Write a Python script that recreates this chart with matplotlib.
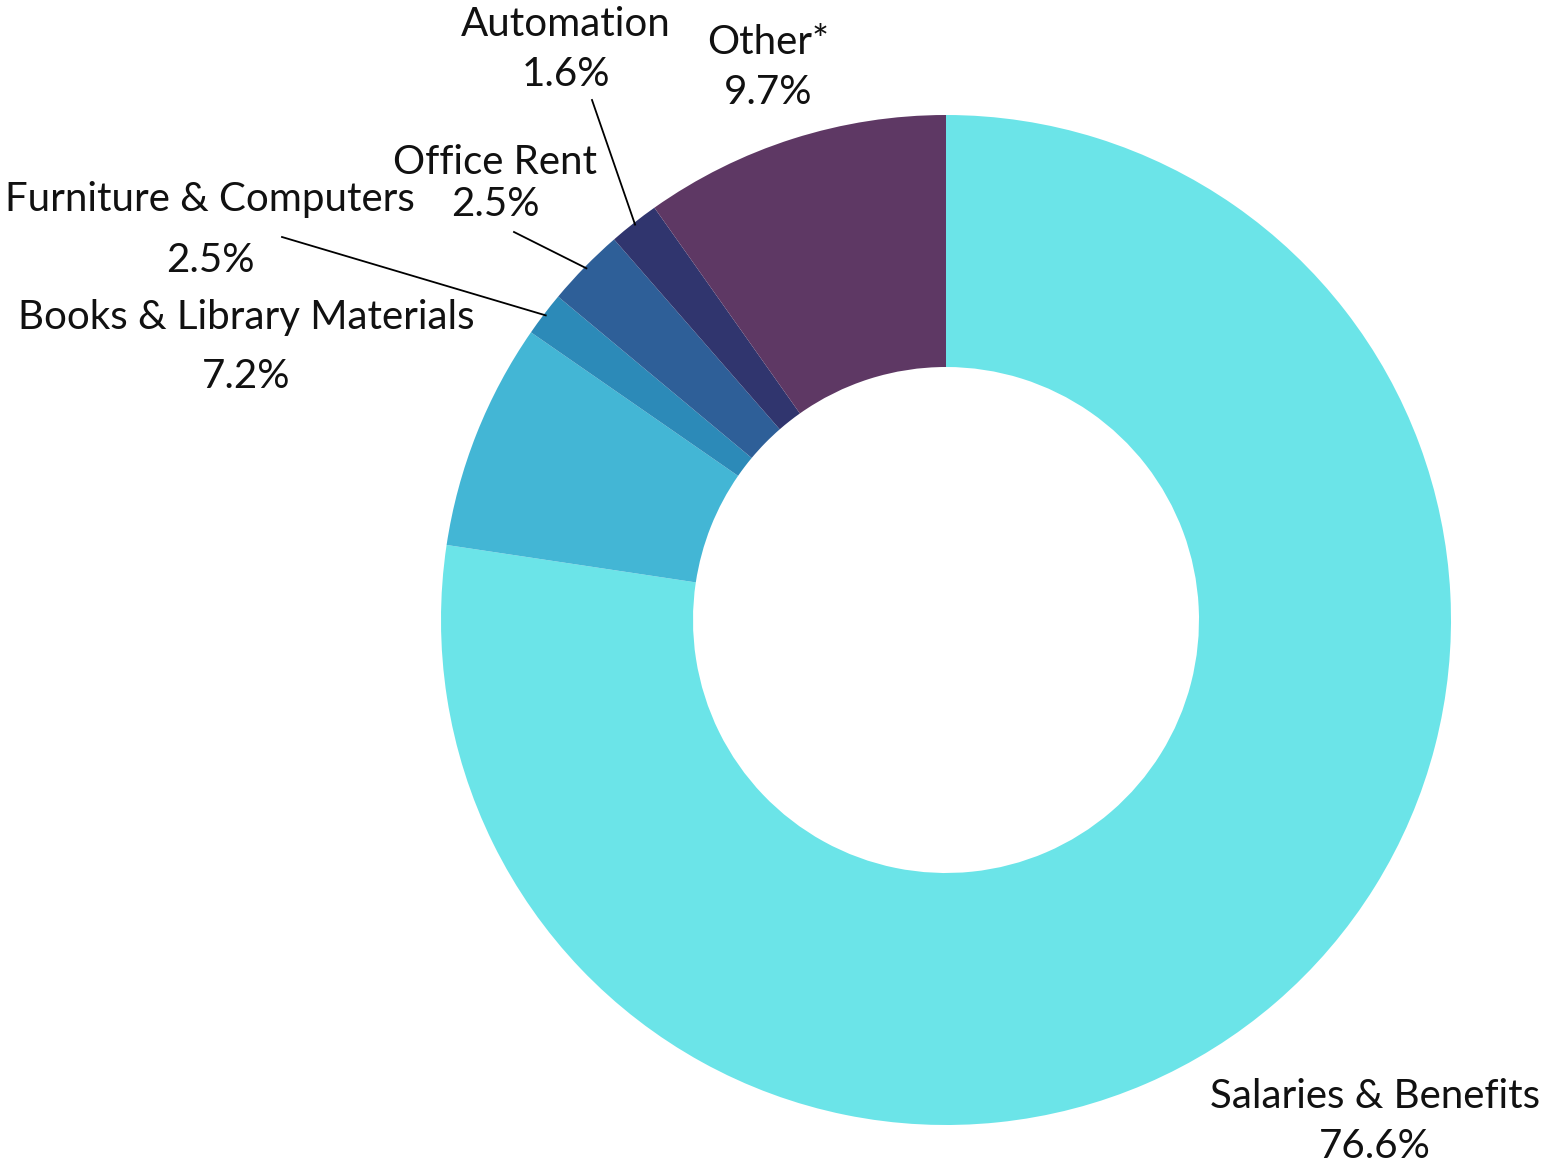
import numpy as np
import matplotlib
matplotlib.use("Agg")
import matplotlib.pyplot as plt

W, H = 1560, 1167

categories = ["Salaries & Benefits", "Books & Library Materials",
              "Furniture & Computers", "Office Rent", "Automation", "Other*"]
# slice sizes as drawn (the furniture slice is drawn thinner than its label says)
values = [76.6, 7.2, 1.4, 2.5, 1.6, 9.7]
pct_labels = ["76.6%", "7.2%", "2.5%", "2.5%", "1.6%", "9.7%"]
colors = ["#6BE4E8", "#43B6D5", "#2C8AB8", "#2E5F98", "#30356E", "#5E3864"]

# label positions in pixel coords (x, y of name, y of pct)
label_pos = [
    (1375, 1096, 1146),
    (246, 318, 377),
    (210, 200, 260),
    (495, 162, 205),
    (566, 25, 75),
    (768, 42, 92),
]
# leader lines start (pixel coords), None = no line
leader_start = [None, None, (282, 237), (514, 232), (592, 100), None]

CX, CY, R = 946, 620, 505

plt.rcParams['font.family'] = ['Lato', 'DejaVu Sans']

fig = plt.figure(figsize=(W / 100, H / 100), dpi=100)
ax = fig.add_axes([0, 0, 1, 1])

wedges, _ = ax.pie(values, colors=colors, startangle=90, counterclock=False,
                   center=(CX, H - CY), radius=R,
                   wedgeprops=dict(width=252, linewidth=0))

# pie() resets the limits, so set them afterwards
ax.set_xlim(0, W)
ax.set_ylim(0, H)
ax.set_aspect('equal')
ax.axis('off')

for i, w in enumerate(wedges):
    x, y1, y2 = label_pos[i]
    ax.text(x, H - y1, categories[i], ha='center', va='center', fontsize=29, color='#111111')
    ax.text(x, H - y2, pct_labels[i], ha='center', va='center', fontsize=29, color='#111111')
    if leader_start[i] is not None:
        mid = np.deg2rad((w.theta1 + w.theta2) / 2)
        ex = CX + 503 * np.cos(mid)
        ey = (H - CY) + 503 * np.sin(mid)
        sx, sy = leader_start[i]
        ax.plot([sx, ex], [H - sy, ey], color='black', linewidth=1.3)

fig.savefig("out.png", dpi=100)
